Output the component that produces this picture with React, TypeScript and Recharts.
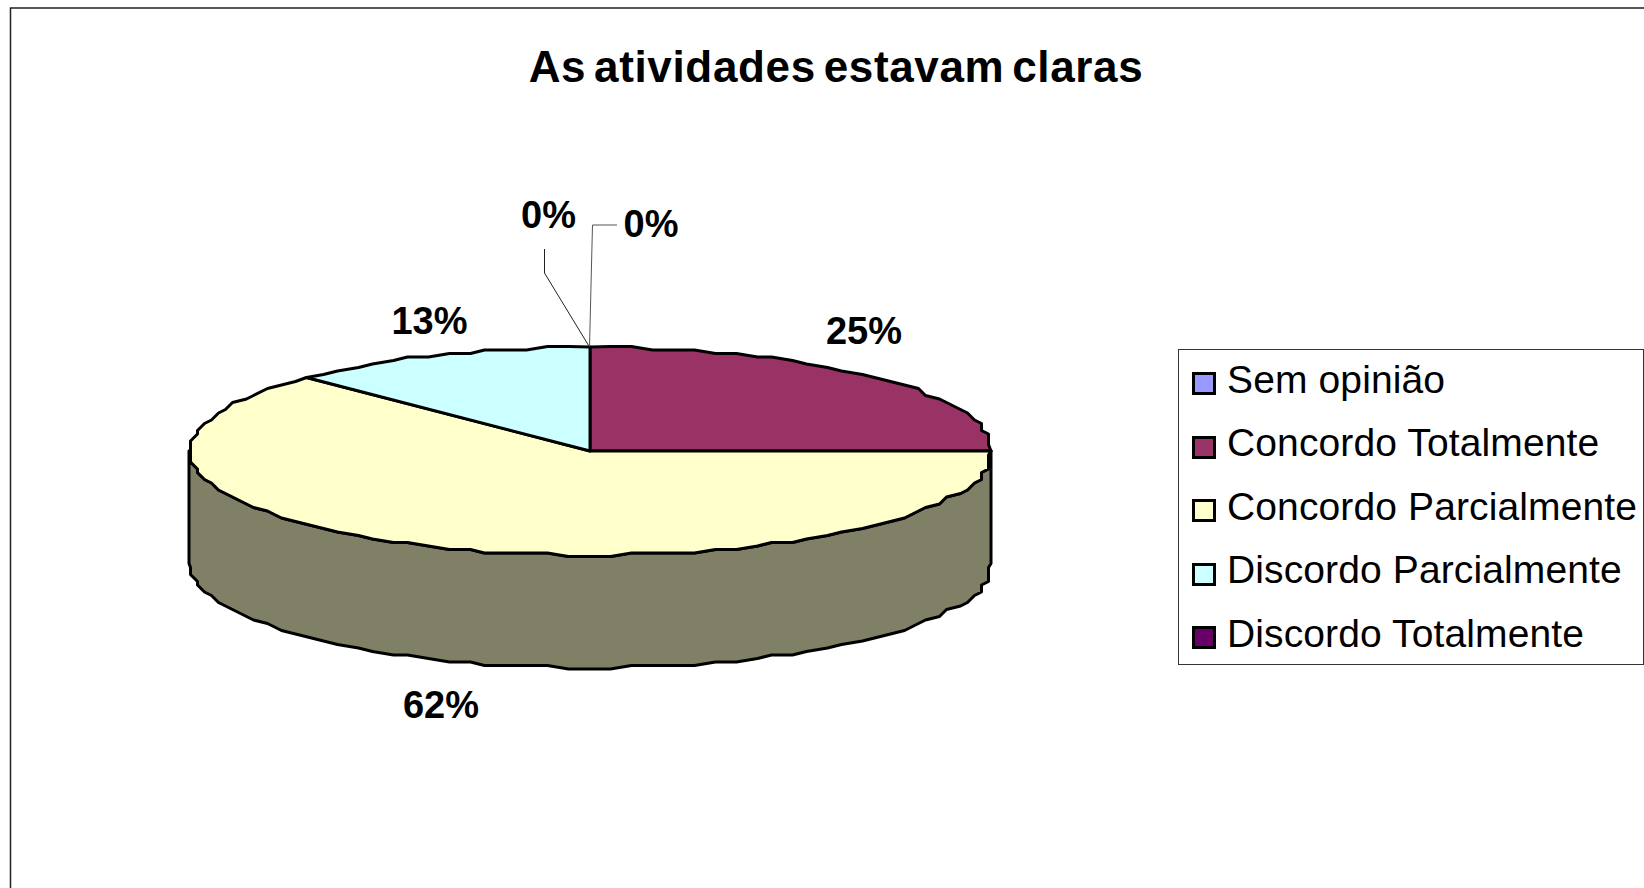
import React from "react";
import { PieChart, Pie, Legend } from "recharts";

const categories = ["Sem opinião", "Concordo Totalmente", "Concordo Parcialmente", "Discordo Parcialmente", "Discordo Totalmente"];
const values = [0, 25, 62.5, 12.5, 0];
const percentLabels = ["0%", "25%", "62%", "13%", "0%"];
const colors = ["#9999FF", "#993366", "#FFFFCC", "#CCFFFF", "#660066"];
const titleText = "As atividades estavam claras";

const tableData = categories.map((name, i) => ({ name, value: values[i], fill: colors[i] }));

const W = 1644, H = 888;
const CX = 590, CY = 451, RX = 401;
const SQUASH = 104 / 401;
const DEPTH = 112.5;
const FONT = '"Liberation Sans", Arial, sans-serif';
const RAD = Math.PI / 180;
const GX = 7, GY = 3.5;
const STEP = 3;

const pt = (cx: number, cy: number, r: number, a: number) => {
  const x = cx + r * Math.cos(a * RAD);
  const y = cy - r * SQUASH * Math.sin(a * RAD);
  return [x, y];
};

// outline of an elliptical arc, stepped like the low-resolution original
const arc = (cx: number, cy: number, r: number, from: number, to: number, dy = 0) => {
  const out: number[][] = [];
  const n = Math.max(1, Math.ceil(Math.abs(from - to) / STEP));
  for (let i = 0; i <= n; i++) {
    const a = from + ((to - from) * i) / n;
    let [x, y] = pt(cx, cy, r, a);
    if (i > 0 && i < n) {
      x = Math.round(x / GX) * GX + 1.5;
      y = Math.round(y / GY) * GY;
    }
    const last = out[out.length - 1];
    if (!last || last[0] !== x || last[1] !== y + dy) out.push([x, y + dy]);
  }
  return out;
};

const toPath = (pts: number[][]) => "M" + pts.map((p) => `${p[0].toFixed(1)},${p[1].toFixed(1)}`).join("L") + "Z";

const TopShape = (p: any) => {
  if (p.startAngle === p.endAngle) return <g />;
  const pts = [[p.cx, p.cy], ...arc(p.cx, p.cy, p.outerRadius, p.startAngle, p.endAngle)];
  return <path d={toPath(pts)} fill={p.fill} stroke="#000" strokeWidth={3} strokeLinejoin="round" />;
};

const darken = (hex: string) => {
  const n = parseInt(hex.slice(1), 16);
  const f = (v: number) => Math.round(v * 0.5).toString(16).padStart(2, "0");
  return "#" + f((n >> 16) & 255) + f((n >> 8) & 255) + f(n & 255);
};

const WallShape = (p: any) => {
  const from = Math.min(p.startAngle, 0);
  const to = Math.max(p.endAngle, -180);
  if (from <= to) return <g />;
  const top = arc(p.cx, p.cy, p.outerRadius, from, to);
  const bottom = arc(p.cx, p.cy, p.outerRadius, to, from, DEPTH);
  return <path d={toPath([...top, ...bottom])} fill={darken(p.fill)} stroke="#000" strokeWidth={3} strokeLinejoin="round" />;
};

const labelAnchors = [
  { x: 651, y: 237 },
  { x: 864, y: 344 },
  { x: 441, y: 718 },
  { x: 429.5, y: 334 },
  { x: 548.5, y: 228 },
];

const renderLabel = (p: any) => {
  const a = labelAnchors[p.index];
  return (
    <g key={p.index}>
      {p.index === 0 && <polyline points="589.5,347 592.5,225 617,225" fill="none" stroke="#555" strokeWidth={1} />}
      {p.index === 4 && <polyline points="589.5,347 544.5,273 544.5,249" fill="none" stroke="#222" strokeWidth={1} />}
      <text x={a.x} y={a.y} textAnchor="middle" fontFamily={FONT} fontWeight="bold" fontSize={38} fill="#000">
        {percentLabels[p.index]}
      </text>
    </g>
  );
};

const LegendBox = ({ payload }: any) => {
  const seen = new Set<string>();
  const items = (payload || []).filter((e: any) => {
    if (seen.has(e.value)) return false;
    seen.add(e.value);
    return true;
  });
  return (
    <div style={{ position: "relative", width: 466, height: 316, boxSizing: "border-box", border: "1px solid #333", background: "#fff" }}>
      {items.map((e: any, i: number) => (
        <div key={e.value} style={{ position: "absolute", left: 0, top: 0 }}>
          <div style={{ position: "absolute", left: 13, top: 22 + i * 63.5, width: 24, height: 23, boxSizing: "border-box", background: e.color, border: "3px solid #000" }} />
          <div style={{ position: "absolute", left: 48, top: 4.5 + i * 63.5, fontFamily: FONT, fontSize: 39, letterSpacing: 0.12, lineHeight: "50px", whiteSpace: "nowrap", color: "#000" }}>{e.value}</div>
        </div>
      ))}
    </div>
  );
};

export default function App() {
  return (
    <div style={{ position: "absolute", left: 0, top: 0, width: W, height: H, overflow: "hidden", background: "#fff" }}>
      <PieChart width={W} height={H} margin={{ top: 0, right: 0, bottom: 0, left: 0 }}>
        <rect x={10.5} y={8} width={W} height={H} fill="#fff" stroke="#222" strokeWidth={1.5} />
        <text x={836} y={82} textAnchor="middle" fontFamily={FONT} fontWeight="bold" fontSize={44} letterSpacing={0.65} wordSpacing={-5} fill="#000">{titleText}</text>
        <Pie data={tableData} dataKey="value" nameKey="name" cx={CX} cy={CY} outerRadius={RX} startAngle={90} endAngle={-270} isAnimationActive={false} legendType="none" shape={WallShape} label={false} labelLine={false} />
        <Pie data={tableData} dataKey="value" nameKey="name" cx={CX} cy={CY} outerRadius={RX} startAngle={90} endAngle={-270} isAnimationActive={false} shape={TopShape} label={renderLabel} labelLine={false} />
        <Legend layout="vertical" align="center" verticalAlign="middle" itemSorter={null} content={<LegendBox />} wrapperStyle={{ position: "absolute", left: 1178, top: 349, width: 466, height: 316, margin: 0 }} />
      </PieChart>
    </div>
  );
}
